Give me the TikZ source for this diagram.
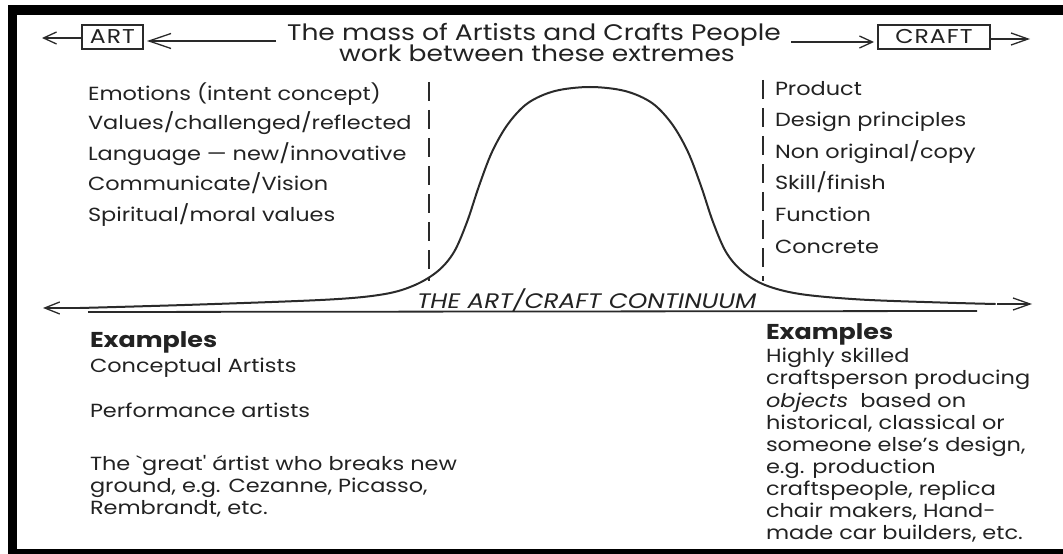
\documentclass[tikz,border=0pt]{standalone}
\usepackage{fontspec}
\setmainfont{Poppins}
% a wide geometric face for all lettering
\newfontfamily\widesans{Poppins}[FakeStretch=1.18]
\usetikzlibrary{arrows.meta}
\definecolor{ink}{HTML}{222222}
\definecolor{rule}{HTML}{2A2A2A}

\begin{document}
\begin{tikzpicture}[x=1bp,y=-1bp,
  every node/.style={inner sep=0pt,outer sep=0pt,text=ink},
  titletext/.style={anchor=base,font=\widesans\fontsize{22.5bp}{24bp}\selectfont},
  item/.style={anchor=base west,font=\widesans\fontsize{19bp}{21bp}\selectfont},
  exhead/.style={anchor=base west,font=\widesans\fontsize{21.5bp}{23bp}\selectfont\bfseries},
  exline/.style={anchor=base west,font=\widesans\fontsize{19bp}{21bp}\selectfont},
  labelbox/.style={draw=rule,line width=2.4bp,
    font=\widesans\fontsize{20bp}{22bp}\selectfont\addfontfeature{LetterSpace=5},
    minimum height=24bp,inner xsep=0pt},
  thinline/.style={draw=rule,line width=1.3bp},
  barb/.style={-{Straight Barb[length=#1,width=12bp,line width=1.3bp]}},
  barb/.default=13bp,
  divider/.style={draw=rule,line width=2.4bp,dash pattern=on 19bp off 9bp},
  bell/.style={draw=rule,line width=2bp,line cap=round}
]
\useasboundingbox (0,0) rectangle (1063,554);

% black frame on three sides
\fill[black] (8,5) rectangle (1063,15);
\fill[black] (8,5) rectangle (17,554);
\fill[black] (8,549) rectangle (1063,554);

% heading
\node[titletext] (title1) at (534,41) {The mass of Artists and Crafts People};
\node[titletext] (title2) at (537,62) {work between these extremes};

% the two extremes
\node[labelbox,minimum width=61bp] (artbox) at (112.5,37) {ART};
\node[labelbox,minimum width=112bp] (craftbox) at (934,37) {CRAFT};

\coordinate (artend) at (42,38);
\coordinate (craftend) at (1030,39);
\coordinate (lineL) at (276,41);
\coordinate (lineR) at (791,42);

\draw[thinline,barb] (artbox.west |- artend) -- (artend);
\draw[thinline,-{Straight Barb[length=22bp,width=15bp,line width=1.3bp]},shorten >=4bp]
  (lineL) -- (artbox.east |- lineL);
\draw[thinline,barb,shorten >=4bp] (lineR) -- (craftbox.west |- lineR);
\draw[thinline,barb=17bp] (craftbox.east |- craftend) -- (craftend);

% qualities of art
\node[item] (a1) at (88,101) {Emotions (intent concept)};
\node[item] (a2) at (88,130) {Values/challenged/reflected};
\node[item] (a3) at (88,161) {Language — new/innovative};
\node[item] (a4) at (88,191) {Communicate/Vision};
\node[item] (a5) at (88,222) {Spiritual/moral values};

% qualities of craft
\node[item] (c1) at (775,96) {Product};
\node[item] (c2) at (775,127) {Design principles};
\node[item] (c3) at (775,159) {Non original/copy};
\node[item] (c4) at (775,190) {Skill/finish};
\node[item] (c5) at (775,222) {Function};
\node[item] (c6) at (775,254) {Concrete};

% dashed dividers
\coordinate (dLtop) at (429,82);
\coordinate (dLbot) at (429,281);
\coordinate (dRtop) at (763,80);
\coordinate (dRbot) at (763,281);
\draw[divider] (dLtop) -- (dLbot);
\draw[divider] (dRtop) -- (dRbot);

% the bell curve of the continuum
\draw[bell] plot[smooth,tension=0.55] coordinates {
  (80,308) (200,304.5) (330,299.5) (385,294) (415,285) (438,271) (454,252)
  (467,222) (479,186) (492,152) (508,124) (528,103) (555,91) (590,87)
  (625,91) (652,103) (672,124) (688,152) (701,186) (713,222) (726,252)
  (742,271) (765,285) (800,294) (860,299.5) (940,302.5) (995,304)};

% axis line with its arrow ends
\coordinate (axisL) at (88,312);
\coordinate (axisR) at (977,311);
\draw[thinline,line width=1.8bp] (axisL) -- (axisR);
\coordinate (leftstub) at (80,308);
\coordinate (lefttip) at (43,308);
\coordinate (rightstub) at (997,304);
\coordinate (righttip) at (1032,304);
\draw[thinline,barb=15bp] (leftstub) -- (lefttip);
\draw[thinline,barb=17bp] (rightstub) -- (righttip);

\node[anchor=base west,font=\widesans\fontsize{21bp}{23bp}\selectfont\itshape] (continuum)
  at (417,309) {THE ART/CRAFT CONTINUUM};

% examples of art
\node[exhead] (ae) at (90,348) {Examples};
\node[exline] (ae1) at (90,373) {Conceptual Artists};
\node[exline] (ae2) at (90,417) {Performance artists};
\node[exline] (ae3) at (90,470) {The `great' ártist who breaks new};
\node[exline] (ae4) at (90,492) {ground, e.g. Cezanne, Picasso,};
\node[exline] (ae5) at (90,514) {Rembrandt, etc.};

% examples of craft
\node[exhead] (ce) at (766,340) {Examples};
\node[exline] (ce1) at (766,363) {Highly skilled};
\node[exline] (ce2) at (766,385) {craftsperson producing};
\node[exline] (ce3) at (766,407) {\itshape objects\upshape\ \ based on};
\node[exline] (ce4) at (766,429) {historical, classical or};
\node[exline] (ce5) at (766,451) {someone else’s design,};
\node[exline] (ce6) at (766,473) {e.g. production};
\node[exline] (ce7) at (766,495) {craftspeople, replica};
\node[exline] (ce8) at (766,517) {chair makers, Hand-};
\node[exline] (ce9) at (766,539) {made car builders, etc.};
\end{tikzpicture}
\end{document}
